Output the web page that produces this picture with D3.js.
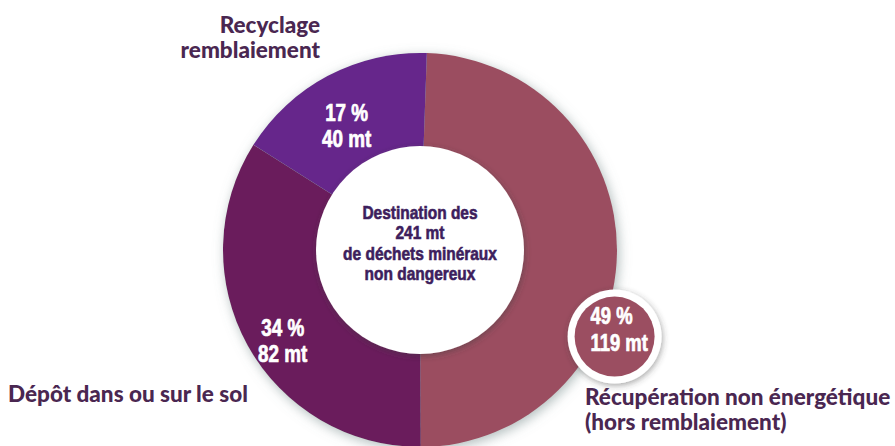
<!DOCTYPE html>
<html>
<head>
<meta charset="utf-8">
<script src="https://cdn.jsdelivr.net/npm/d3@7"></script>
<style>
  body { margin: 0; background: #fff; }
  svg { display: block; }
  .cat { font-family: Lato, "Open Sans", sans-serif; font-weight: 900; font-size: 22.5px; fill: #4a2751; }
  .val { font-family: "Liberation Sans", Arial, sans-serif; font-weight: 700; font-size: 23px; fill: #fff; stroke: #fff; stroke-width: 0.7px; }
  .centre { font-family: "Liberation Sans", Arial, sans-serif; font-weight: 700; font-size: 18px; fill: #3d1e5d; stroke: #3d1e5d; stroke-width: 0.6px; }
</style>
</head>
<body>
<svg id="chart" width="895" height="446"></svg>
<script>
// data
const categories = ["Récupération non énergétique (hors remblaiement)", "Dépôt dans ou sur le sol", "Recyclage remblaiement"];
const tonnes = [119, 82, 40];
const percents = [49, 34, 17];
const colours = ["#9b4e61", "#6a1f5c", "#66288b"];
const centreLines = ["Destination des", "241 mt", "de déchets minéraux", "non dangereux"];

const cx = 420, cy = 250;
const outerR = 197, innerR = 104;

const svg = d3.select("#chart");

const defs = svg.append("defs");
const sh = defs.append("filter").attr("id", "shadow")
    .attr("x", "-20%").attr("y", "-20%").attr("width", "140%").attr("height", "140%");
sh.append("feDropShadow").attr("dx", 2).attr("dy", 3).attr("stdDeviation", 6)
    .attr("flood-color", "#6f8585").attr("flood-opacity", 0.55);
const sh2 = defs.append("filter").attr("id", "shadowSoft")
    .attr("x", "-30%").attr("y", "-30%").attr("width", "160%").attr("height", "160%");
sh2.append("feDropShadow").attr("dx", 1).attr("dy", 2).attr("stdDeviation", 3)
    .attr("flood-color", "#3a3a3a").attr("flood-opacity", 0.45);

const data = categories.map((c, i) => ({ cat: c, t: tonnes[i], p: percents[i], col: colours[i] }));

const pie = d3.pie().sort(null).value(d => d.t).startAngle(0.035).endAngle(0.035 + 2 * Math.PI);
const arcs = pie(data);

const arc = d3.arc().innerRadius(0).outerRadius(outerR);
const labelArc = d3.arc().innerRadius(157).outerRadius(157);

const g = svg.append("g").attr("transform", "translate(" + cx + "," + cy + ")");

// condensed multi-line text (the picture uses a narrow face)
function narrowText(parent, cls, x, y, lines, anchor, lineH, sx) {
    const t = parent.append("text")
        .attr("class", cls)
        .attr("text-anchor", anchor)
        .attr("transform", "translate(" + x + "," + y + ") scale(" + sx + ",1)");
    t.selectAll("tspan").data(lines).join("tspan")
        .attr("x", 0).attr("y", (d, i) => i * lineH).text(d => d);
    return t;
}

const ring = g.append("g").attr("filter", "url(#shadow)");
ring.selectAll("path")
    .data(arcs)
    .join("path")
    .attr("d", arc)
    .attr("fill", d => d.data.col);

// white hole
g.append("circle")
    .attr("r", innerR)
    .attr("fill", "#fff")
    .attr("filter", "url(#shadowSoft)");

narrowText(g, "centre", 0, -31, centreLines, "middle", 20.5, 0.86);

// value labels inside the ring (dépôt, recyclage)
arcs.slice(1).forEach(d => {
    const c = labelArc.centroid(d);
    narrowText(g, "val", c[0], c[1] + 10, [d.data.p + " %", d.data.t + " mt"], "middle", 26, 0.82);
});

// bubble for récupération
const first = arcs[0];
const bubbleAngle = first.startAngle + (first.endAngle - first.startAngle) * 0.63;
const bx = Math.sin(bubbleAngle) * (outerR + 16);
const by = -Math.cos(bubbleAngle) * (outerR + 16);
g.append("circle").attr("cx", bx).attr("cy", by).attr("r", 47)
    .attr("fill", "#fff").attr("filter", "url(#shadowSoft)");
g.append("circle").attr("cx", bx).attr("cy", by).attr("r", 40)
    .attr("fill", first.data.col);
narrowText(g, "val", bx - 24, by - 13, [first.data.p + " %", first.data.t + " mt"], "start", 27, 0.8);

// category labels
svg.append("text").attr("class", "cat").attr("text-anchor", "end")
    .selectAll("tspan").data(["Recyclage", "remblaiement"]).join("tspan")
    .attr("x", 320).attr("y", (d, i) => 33 + i * 25).text(d => d);

svg.append("text").attr("class", "cat").attr("x", 8).attr("y", 402).text(categories[1]);

svg.append("text").attr("class", "cat")
    .selectAll("tspan").data(["Récupération non énergétique", "(hors remblaiement)"]).join("tspan")
    .attr("x", 585).attr("y", (d, i) => 405 + i * 25).text(d => d);
</script>
</body>
</html>
